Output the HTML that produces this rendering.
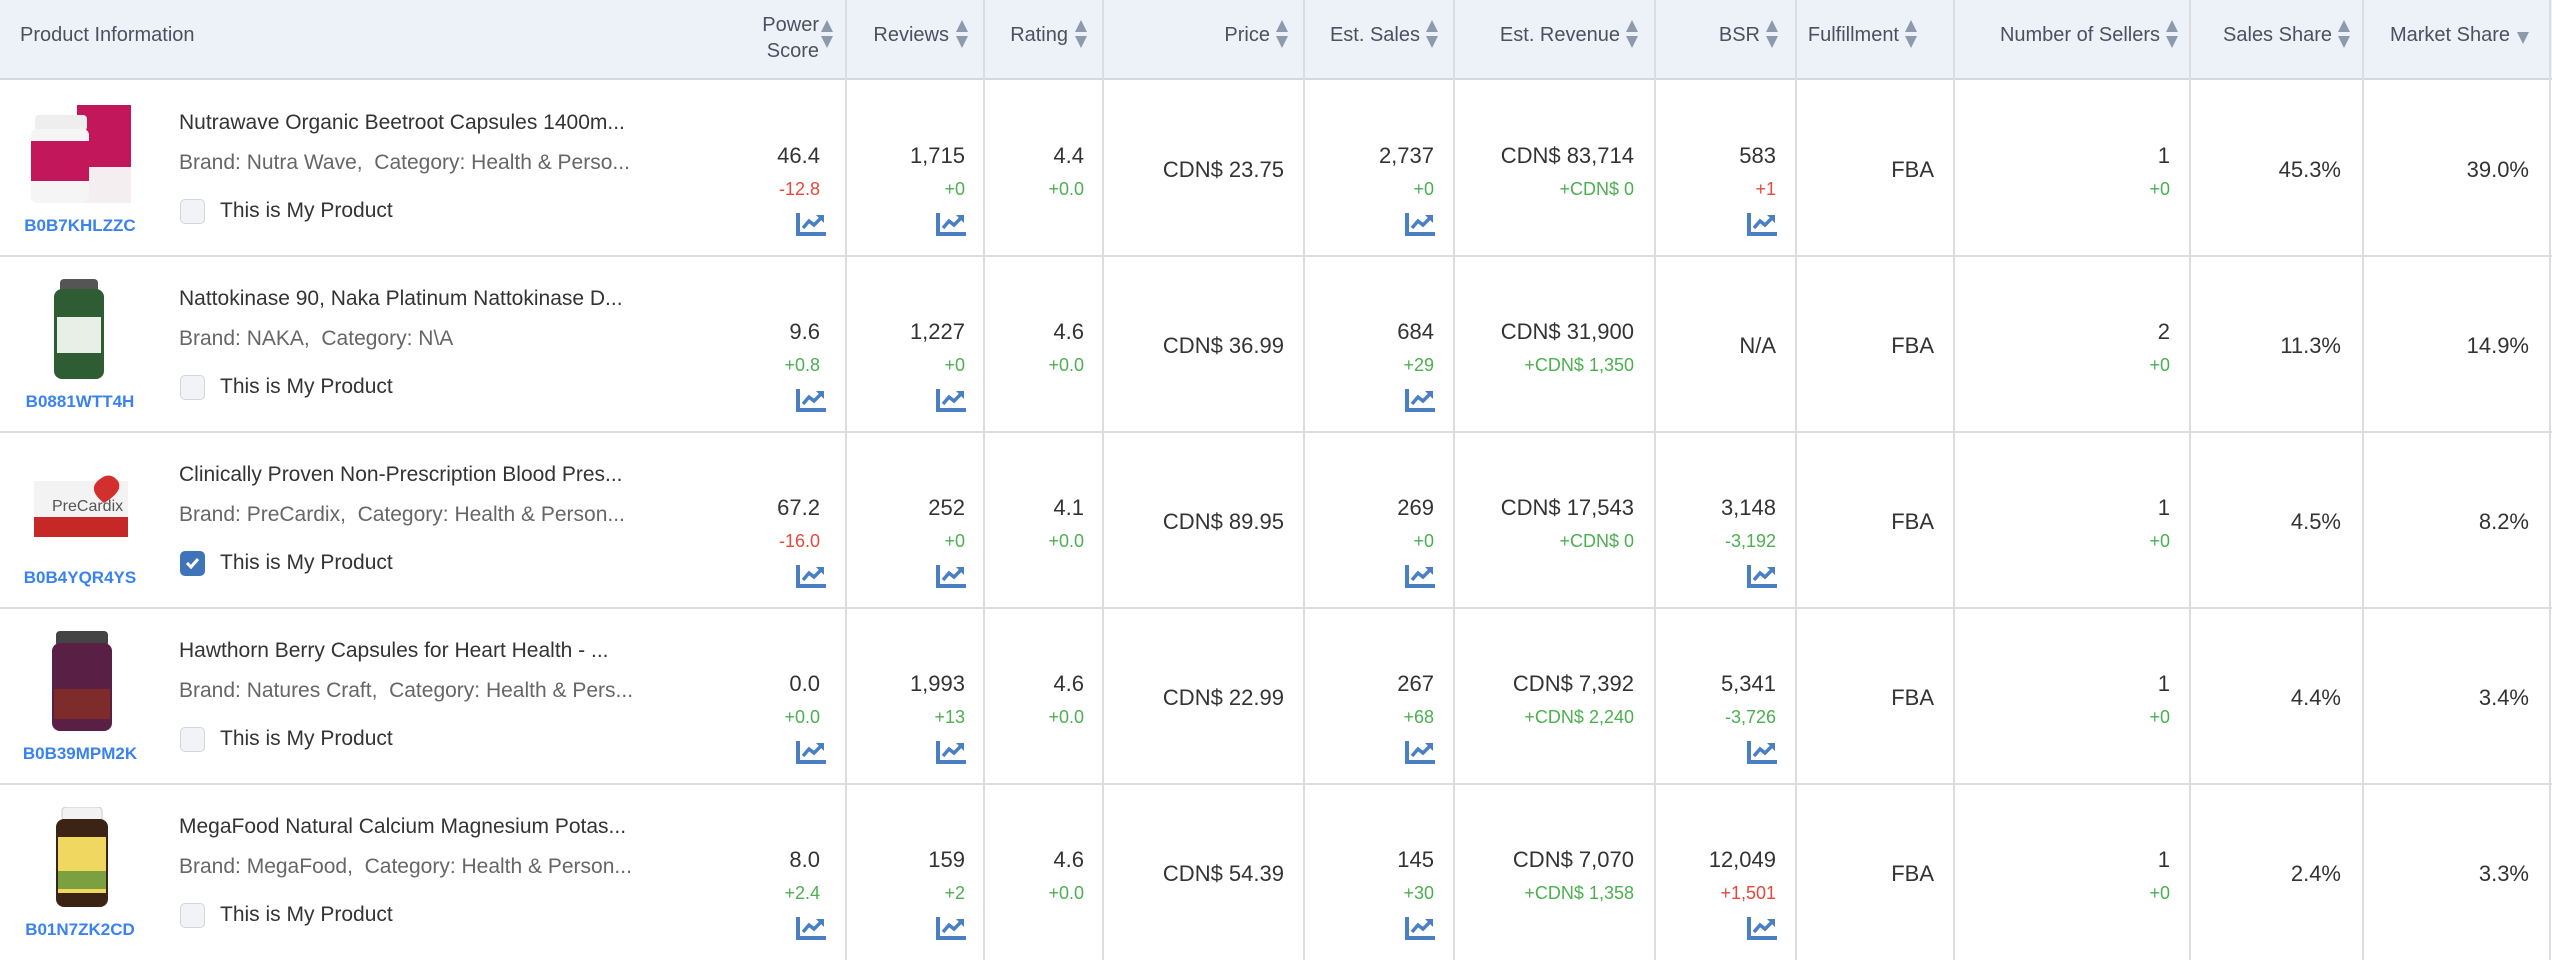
<!DOCTYPE html>
<html><head><meta charset="utf-8"><style>
*{margin:0;padding:0;box-sizing:border-box}
body{width:2552px;height:960px;background:#fff;font-family:"Liberation Sans",sans-serif;color:#333;position:relative;overflow:hidden}
.hd{position:absolute;left:0;top:0;width:2552px;height:80px;background:#edf1f8;border-bottom:2px solid #d4d7dc}
.ht{position:absolute;font-size:20px;color:#4a5260;text-align:right;line-height:26px}
.ar{position:absolute;width:14px;height:30px}
.vl{position:absolute;top:0;width:1.5px;height:960px;background:#dcdde0}
.hl{position:absolute;left:0;width:2552px;height:2px;background:#dcdde0}
.c{position:absolute;text-align:right;white-space:nowrap}
.v{font-size:22px;color:#333}
.d{font-size:18px}
.g{color:#4caf50}.r{color:#e5483a}
.t{position:absolute;left:179px;font-size:21px;white-space:nowrap}
.asin{position:absolute;left:0;width:160px;text-align:center;font-size:17px;font-weight:bold;color:#3a82ef}
.cb{position:absolute;left:180px;width:25px;height:25px;border:1.5px solid #d3d6dc;border-radius:5px;background:#f1f3f7}
.img{position:absolute}
</style></head><body>
<div class="hd"></div>
<svg width="0" height="0" style="position:absolute"><defs>
<g id="ar"><path d="M7 1 L13 13 L1 13 Z" fill="#8d9aac"/><path d="M1 17 L13 17 L7 29 Z" fill="#8d9aac"/></g>
<g id="ic"><path d="M2 0 V21 H30" stroke="#4a80c2" stroke-width="4" fill="none"/><path d="M7 15 L13 8 L18 12 L25 5" stroke="#4a80c2" stroke-width="3.5" fill="none"/><path d="M20 2 H28 V10 Z" fill="#4a80c2"/></g>
</defs></svg>
<!-- header -->
<div class="ht" style="left:20px;top:22px;text-align:left;">Product Information</div>
<div class="ht" style="right:1733px;top:12px">Power<br>Score</div>
<div class="ht" style="right:1603px;top:22px">Reviews</div>
<div class="ht" style="right:1484px;top:22px">Rating</div>
<div class="ht" style="right:1282px;top:22px">Price</div>
<div class="ht" style="right:1132px;top:22px">Est. Sales</div>
<div class="ht" style="right:932px;top:22px">Est. Revenue</div>
<div class="ht" style="right:792px;top:22px">BSR</div>
<div class="ht" style="right:653px;top:22px">Fulfillment</div>
<div class="ht" style="right:392px;top:22px">Number of Sellers</div>
<div class="ht" style="right:220px;top:22px">Sales Share</div>
<div class="ht" style="right:42px;top:22px">Market Share</div>
<svg class="ar" style="left:820px;top:19px"><use href="#ar"/></svg>
<svg class="ar" style="left:955px;top:19px"><use href="#ar"/></svg>
<svg class="ar" style="left:1074px;top:19px"><use href="#ar"/></svg>
<svg class="ar" style="left:1275px;top:19px"><use href="#ar"/></svg>
<svg class="ar" style="left:1425px;top:19px"><use href="#ar"/></svg>
<svg class="ar" style="left:1625px;top:19px"><use href="#ar"/></svg>
<svg class="ar" style="left:1765px;top:19px"><use href="#ar"/></svg>
<svg class="ar" style="left:1904px;top:19px"><use href="#ar"/></svg>
<svg class="ar" style="left:2165px;top:19px"><use href="#ar"/></svg>
<svg class="ar" style="left:2337px;top:19px"><use href="#ar"/></svg>
<svg class="ar" style="left:2516px;top:19px"><path d="M1 13 L13 13 L7 25 Z" fill="#8d9aac"/></svg>
<!-- lines -->
<div class="vl" style="left:845px"></div><div class="vl" style="left:983px"></div><div class="vl" style="left:1102px"></div>
<div class="vl" style="left:1303px"></div><div class="vl" style="left:1453px"></div><div class="vl" style="left:1654px"></div>
<div class="vl" style="left:1795px"></div><div class="vl" style="left:1953px"></div><div class="vl" style="left:2189px"></div>
<div class="vl" style="left:2362px"></div><div class="vl" style="left:2549px"></div>
<div class="hl" style="top:255px"></div><div class="hl" style="top:431px"></div><div class="hl" style="top:607px"></div><div class="hl" style="top:783px"></div>

<!-- ROW 1 top 81 -->
<div style="position:absolute;left:0;top:81px;width:2552px;height:175px">
<svg class="img" style="left:27px;top:24px" width="106" height="100"><rect x="50" y="0" width="54" height="98" fill="#c2185b"/><rect x="50" y="62" width="54" height="36" fill="#f4eef0"/><rect x="8" y="10" width="52" height="16" rx="4" fill="#eee"/><rect x="4" y="24" width="58" height="74" rx="6" fill="#f5f5f5"/><rect x="4" y="36" width="58" height="40" fill="#c2185b"/></svg>
<div class="asin" style="top:135px">B0B7KHLZZC</div>
<div class="t" style="top:30px">Nutrawave Organic Beetroot Capsules 1400m...</div>
<div class="t" style="top:70px;color:#666">Brand: Nutra Wave,&nbsp;&nbsp;Category: Health &amp; Perso...</div>
<div class="cb" style="top:118px"></div><div class="t" style="left:220px;top:118px">This is My Product</div>
<div class="c v" style="right:1732px;top:62px">46.4</div><div class="c d r" style="right:1732px;top:98px">-12.8</div>
<div class="c v" style="right:1587px;top:62px">1,715</div><div class="c d g" style="right:1587px;top:98px">+0</div>
<div class="c v" style="right:1468px;top:62px">4.4</div><div class="c d g" style="right:1468px;top:98px">+0.0</div>
<div class="c v" style="right:1268px;top:76px">CDN$ 23.75</div>
<div class="c v" style="right:1118px;top:62px">2,737</div><div class="c d g" style="right:1118px;top:98px">+0</div>
<div class="c v" style="right:918px;top:62px">CDN$ 83,714</div><div class="c d g" style="right:918px;top:98px">+CDN$ 0</div>
<div class="c v" style="right:776px;top:62px">583</div><div class="c d r" style="right:776px;top:98px">+1</div>
<div class="c v" style="right:618px;top:76px">FBA</div>
<div class="c v" style="right:382px;top:62px">1</div><div class="c d g" style="right:382px;top:98px">+0</div>
<div class="c v" style="right:211px;top:76px">45.3%</div>
<div class="c v" style="right:23px;top:76px">39.0%</div>
<svg style="position:absolute;left:796px;top:132px" width="31" height="24"><use href="#ic"/></svg>
<svg style="position:absolute;left:936px;top:132px" width="31" height="24"><use href="#ic"/></svg>
<svg style="position:absolute;left:1405px;top:132px" width="31" height="24"><use href="#ic"/></svg>
<svg style="position:absolute;left:1747px;top:132px" width="31" height="24"><use href="#ic"/></svg>
</div>

<!-- ROW 2 top 257 -->
<div style="position:absolute;left:0;top:257px;width:2552px;height:175px">
<svg class="img" style="left:54px;top:22px" width="50" height="100"><rect x="6" y="0" width="38" height="14" rx="4" fill="#555"/><rect x="0" y="10" width="50" height="90" rx="8" fill="#2e5d34"/><rect x="3" y="38" width="44" height="36" fill="#e8efe6"/></svg>
<div class="asin" style="top:135px">B0881WTT4H</div>
<div class="t" style="top:30px">Nattokinase 90, Naka Platinum Nattokinase D...</div>
<div class="t" style="top:70px;color:#666">Brand: NAKA,&nbsp;&nbsp;Category: N\A</div>
<div class="cb" style="top:118px"></div><div class="t" style="left:220px;top:118px">This is My Product</div>
<div class="c v" style="right:1732px;top:62px">9.6</div><div class="c d g" style="right:1732px;top:98px">+0.8</div>
<div class="c v" style="right:1587px;top:62px">1,227</div><div class="c d g" style="right:1587px;top:98px">+0</div>
<div class="c v" style="right:1468px;top:62px">4.6</div><div class="c d g" style="right:1468px;top:98px">+0.0</div>
<div class="c v" style="right:1268px;top:76px">CDN$ 36.99</div>
<div class="c v" style="right:1118px;top:62px">684</div><div class="c d g" style="right:1118px;top:98px">+29</div>
<div class="c v" style="right:918px;top:62px">CDN$ 31,900</div><div class="c d g" style="right:918px;top:98px">+CDN$ 1,350</div>
<div class="c v" style="right:776px;top:76px">N/A</div>
<div class="c v" style="right:618px;top:76px">FBA</div>
<div class="c v" style="right:382px;top:62px">2</div><div class="c d g" style="right:382px;top:98px">+0</div>
<div class="c v" style="right:211px;top:76px">11.3%</div>
<div class="c v" style="right:23px;top:76px">14.9%</div>
<svg style="position:absolute;left:796px;top:132px" width="31" height="24"><use href="#ic"/></svg>
<svg style="position:absolute;left:936px;top:132px" width="31" height="24"><use href="#ic"/></svg>
<svg style="position:absolute;left:1405px;top:132px" width="31" height="24"><use href="#ic"/></svg>
</div>

<!-- ROW 3 top 433 -->
<div style="position:absolute;left:0;top:433px;width:2552px;height:175px">
<svg class="img" style="left:30px;top:38px" width="100" height="70"><rect x="4" y="10" width="94" height="56" fill="#f3f3f3"/><rect x="4" y="46" width="94" height="20" fill="#c62828"/><path d="M70 8 q10 -8 18 2 q6 10 -14 22 q-18 -14 -4 -24z" fill="#d32f2f"/><text x="22" y="40" font-family="Liberation Sans" font-size="16" fill="#555">PreCardix</text></svg>
<div class="asin" style="top:135px">B0B4YQR4YS</div>
<div class="t" style="top:30px">Clinically Proven Non-Prescription Blood Pres...</div>
<div class="t" style="top:70px;color:#666">Brand: PreCardix,&nbsp;&nbsp;Category: Health &amp; Person...</div>
<div class="cb" style="top:118px;background:#3f74b8;border-color:#3f74b8"><svg width="22" height="22" style="position:absolute;left:0;top:0"><path d="M6 11 L10 15 L17 7" stroke="#fff" stroke-width="3" fill="none"/></svg></div><div class="t" style="left:220px;top:118px">This is My Product</div>
<div class="c v" style="right:1732px;top:62px">67.2</div><div class="c d r" style="right:1732px;top:98px">-16.0</div>
<div class="c v" style="right:1587px;top:62px">252</div><div class="c d g" style="right:1587px;top:98px">+0</div>
<div class="c v" style="right:1468px;top:62px">4.1</div><div class="c d g" style="right:1468px;top:98px">+0.0</div>
<div class="c v" style="right:1268px;top:76px">CDN$ 89.95</div>
<div class="c v" style="right:1118px;top:62px">269</div><div class="c d g" style="right:1118px;top:98px">+0</div>
<div class="c v" style="right:918px;top:62px">CDN$ 17,543</div><div class="c d g" style="right:918px;top:98px">+CDN$ 0</div>
<div class="c v" style="right:776px;top:62px">3,148</div><div class="c d g" style="right:776px;top:98px">-3,192</div>
<div class="c v" style="right:618px;top:76px">FBA</div>
<div class="c v" style="right:382px;top:62px">1</div><div class="c d g" style="right:382px;top:98px">+0</div>
<div class="c v" style="right:211px;top:76px">4.5%</div>
<div class="c v" style="right:23px;top:76px">8.2%</div>
<svg style="position:absolute;left:796px;top:132px" width="31" height="24"><use href="#ic"/></svg>
<svg style="position:absolute;left:936px;top:132px" width="31" height="24"><use href="#ic"/></svg>
<svg style="position:absolute;left:1405px;top:132px" width="31" height="24"><use href="#ic"/></svg>
<svg style="position:absolute;left:1747px;top:132px" width="31" height="24"><use href="#ic"/></svg>
</div>

<!-- ROW 4 top 609 -->
<div style="position:absolute;left:0;top:609px;width:2552px;height:175px">
<svg class="img" style="left:52px;top:22px" width="60" height="102"><rect x="4" y="0" width="52" height="16" rx="4" fill="#444"/><rect x="0" y="12" width="60" height="88" rx="8" fill="#5a1f45"/><rect x="2" y="58" width="56" height="30" fill="#7d2b2b"/></svg>
<div class="asin" style="top:135px">B0B39MPM2K</div>
<div class="t" style="top:30px">Hawthorn Berry Capsules for Heart Health - ...</div>
<div class="t" style="top:70px;color:#666">Brand: Natures Craft,&nbsp;&nbsp;Category: Health &amp; Pers...</div>
<div class="cb" style="top:118px"></div><div class="t" style="left:220px;top:118px">This is My Product</div>
<div class="c v" style="right:1732px;top:62px">0.0</div><div class="c d g" style="right:1732px;top:98px">+0.0</div>
<div class="c v" style="right:1587px;top:62px">1,993</div><div class="c d g" style="right:1587px;top:98px">+13</div>
<div class="c v" style="right:1468px;top:62px">4.6</div><div class="c d g" style="right:1468px;top:98px">+0.0</div>
<div class="c v" style="right:1268px;top:76px">CDN$ 22.99</div>
<div class="c v" style="right:1118px;top:62px">267</div><div class="c d g" style="right:1118px;top:98px">+68</div>
<div class="c v" style="right:918px;top:62px">CDN$ 7,392</div><div class="c d g" style="right:918px;top:98px">+CDN$ 2,240</div>
<div class="c v" style="right:776px;top:62px">5,341</div><div class="c d g" style="right:776px;top:98px">-3,726</div>
<div class="c v" style="right:618px;top:76px">FBA</div>
<div class="c v" style="right:382px;top:62px">1</div><div class="c d g" style="right:382px;top:98px">+0</div>
<div class="c v" style="right:211px;top:76px">4.4%</div>
<div class="c v" style="right:23px;top:76px">3.4%</div>
<svg style="position:absolute;left:796px;top:132px" width="31" height="24"><use href="#ic"/></svg>
<svg style="position:absolute;left:936px;top:132px" width="31" height="24"><use href="#ic"/></svg>
<svg style="position:absolute;left:1405px;top:132px" width="31" height="24"><use href="#ic"/></svg>
<svg style="position:absolute;left:1747px;top:132px" width="31" height="24"><use href="#ic"/></svg>
</div>

<!-- ROW 5 top 785 -->
<div style="position:absolute;left:0;top:785px;width:2552px;height:175px">
<svg class="img" style="left:56px;top:22px" width="52" height="102"><rect x="6" y="0" width="40" height="14" rx="4" fill="#f2f2f2" stroke="#ccc"/><rect x="0" y="12" width="52" height="88" rx="8" fill="#3b2414"/><rect x="2" y="30" width="48" height="56" fill="#f0d860"/><rect x="2" y="64" width="48" height="18" fill="#7aa040"/></svg>
<div class="asin" style="top:135px">B01N7ZK2CD</div>
<div class="t" style="top:30px">MegaFood Natural Calcium Magnesium Potas...</div>
<div class="t" style="top:70px;color:#666">Brand: MegaFood,&nbsp;&nbsp;Category: Health &amp; Person...</div>
<div class="cb" style="top:118px"></div><div class="t" style="left:220px;top:118px">This is My Product</div>
<div class="c v" style="right:1732px;top:62px">8.0</div><div class="c d g" style="right:1732px;top:98px">+2.4</div>
<div class="c v" style="right:1587px;top:62px">159</div><div class="c d g" style="right:1587px;top:98px">+2</div>
<div class="c v" style="right:1468px;top:62px">4.6</div><div class="c d g" style="right:1468px;top:98px">+0.0</div>
<div class="c v" style="right:1268px;top:76px">CDN$ 54.39</div>
<div class="c v" style="right:1118px;top:62px">145</div><div class="c d g" style="right:1118px;top:98px">+30</div>
<div class="c v" style="right:918px;top:62px">CDN$ 7,070</div><div class="c d g" style="right:918px;top:98px">+CDN$ 1,358</div>
<div class="c v" style="right:776px;top:62px">12,049</div><div class="c d r" style="right:776px;top:98px">+1,501</div>
<div class="c v" style="right:618px;top:76px">FBA</div>
<div class="c v" style="right:382px;top:62px">1</div><div class="c d g" style="right:382px;top:98px">+0</div>
<div class="c v" style="right:211px;top:76px">2.4%</div>
<div class="c v" style="right:23px;top:76px">3.3%</div>
<svg style="position:absolute;left:796px;top:132px" width="31" height="24"><use href="#ic"/></svg>
<svg style="position:absolute;left:936px;top:132px" width="31" height="24"><use href="#ic"/></svg>
<svg style="position:absolute;left:1405px;top:132px" width="31" height="24"><use href="#ic"/></svg>
<svg style="position:absolute;left:1747px;top:132px" width="31" height="24"><use href="#ic"/></svg>
</div>
</body></html>
